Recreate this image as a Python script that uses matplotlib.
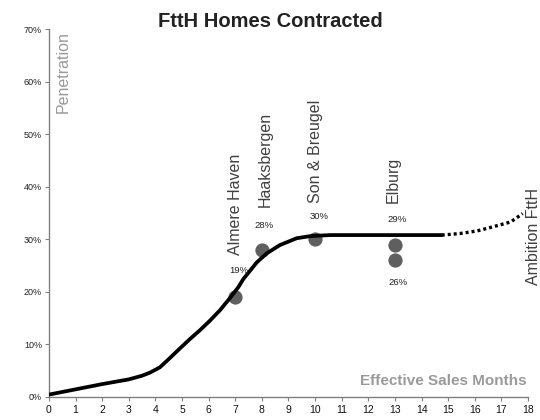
import matplotlib
matplotlib.use("Agg")
import matplotlib.pyplot as plt
from matplotlib.ticker import FuncFormatter

plt.rcParams['font.family'] = ['Liberation Sans', 'DejaVu Sans']

# Contracted penetration curve (months, % of homes)
curve_months = [0, 1, 2, 3, 3.5, 3.8, 4.17, 4.55, 4.92, 5.3, 5.68, 6.05, 6.43,
                6.8, 7.12, 7.3, 7.81, 8.18, 8.68, 9.31, 9.81, 10.56, 12, 13,
                14, 14.76]
curve_values = [0.4, 1.4, 2.4, 3.3, 4.0, 4.6, 5.6, 7.4, 9.2, 11.0, 12.7, 14.5,
                16.5, 18.8, 20.9, 22.4, 25.6, 27.3, 28.9, 30.2, 30.6, 30.8,
                30.8, 30.8, 30.8, 30.8]

# Ambition continuation (dotted)
ambition_months = [14.76, 15.45, 16.1, 16.7, 17.35, 17.8]
ambition_values = [30.8, 31.1, 31.6, 32.4, 33.3, 34.9]

# Project results
towns = ["Almere Haven", "Haaksbergen", "Son & Breugel", "Elburg"]
town_months = [7, 8, 10, 13]
town_values = [19, 28, 30, 29]
extra_month = 13
extra_value = 26

x_ticks = list(range(0, 19))
y_ticks = [0, 10, 20, 30, 40, 50, 60, 70]

fig = plt.figure(figsize=(5.4, 4.2), dpi=100)
ax = fig.add_axes([0.0907, 0.0555, 0.887, 0.8745])

ax.plot(curve_months, curve_values, color='black', lw=2.7,
        solid_capstyle='round', solid_joinstyle='round', zorder=3)
ax.plot(ambition_months, ambition_values, color='black', lw=2.4,
        linestyle=(0, (0.9, 0.9)), dash_capstyle='butt', zorder=3)

dot_color = '#5f5f5f'
ax.scatter(town_months + [extra_month], town_values + [extra_value],
           s=105, color=dot_color, zorder=2, linewidths=0)

# Percentage labels
pct_offsets = {0: (0.15, 5.0), 1: (0.1, 4.6), 2: (0.15, 4.4), 3: (0.07, 4.8)}
for i, (m, v) in enumerate(zip(town_months, town_values)):
    dx, dy = pct_offsets[i]
    ax.text(m + dx, v + dy, f"{v}%", fontsize=6.8, color='#222222',
            ha='center', va='center')
ax.text(extra_month + 0.13, extra_value - 4.2, f"{extra_value}%", fontsize=6.8,
        color='#222222', ha='center', va='center')

# Town names, rotated
name_bottoms = [27.0, 36.1, 36.9, 36.9]
name_months = [7.0, 8.12, 10.0, 12.94]
for name, m, b in zip(towns, name_months, name_bottoms):
    ax.text(m, b, name, rotation=90, fontsize=11.5, color='#404040',
            ha='center', va='bottom')

ax.text(18.2, 21.3, "Ambition FttH", rotation=90, fontsize=11.5,
        color='#404040', ha='center', va='bottom', clip_on=False)

ax.text(0.55, 69.6, "Penetration", rotation=90, fontsize=11.5,
        color='#999999', ha='center', va='top')
ax.text(17.95, 3.0, "Effective Sales Months", fontsize=11, fontweight='bold',
        color='#9a9a9a', ha='right', va='center')

ax.set_xlim(0, 18)
ax.set_ylim(0, 70)
ax.set_xticks(x_ticks)
ax.set_yticks(y_ticks)
ax.yaxis.set_major_formatter(FuncFormatter(lambda v, p: f"{int(v)}%"))
ax.tick_params(axis='x', length=3, width=0.8, color='#808080',
               labelsize=7.5, pad=3, labelcolor='#111111')
ax.tick_params(axis='y', length=3, width=0.8, color='#808080',
               labelsize=6.5, pad=2, labelcolor='#222222')
for side in ('top', 'right'):
    ax.spines[side].set_visible(False)
for side in ('left', 'bottom'):
    ax.spines[side].set_color('#808080')
    ax.spines[side].set_linewidth(1.0)

fig.text(0.5, 0.948, "FttH Homes Contracted", fontsize=14.5, fontweight='bold',
         color='#222222', ha='center', va='center')

fig.savefig("out.png", dpi=100)
